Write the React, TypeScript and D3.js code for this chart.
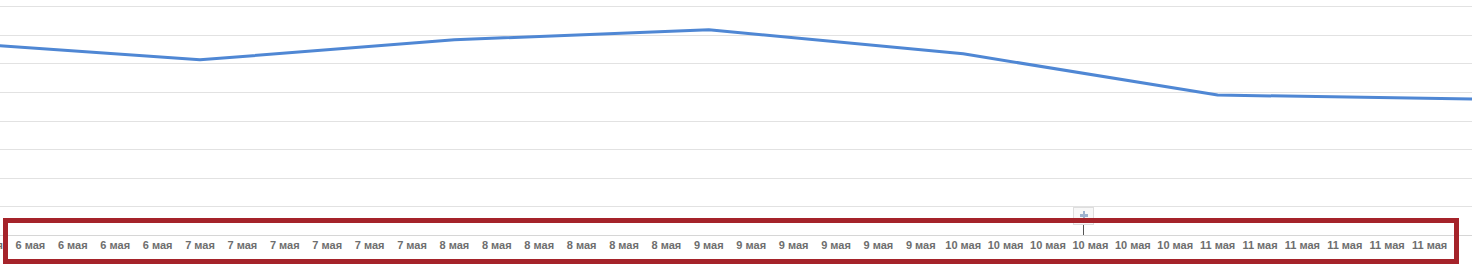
import React, { useEffect } from "react";
import * as d3 from "d3";

// Data
const days = ["6 мая", "7 мая", "8 мая", "9 мая", "10 мая", "11 мая", "12 мая"];
const values = [674, 612, 682, 717, 633, 489, 475];
const gridValues = [0, 100, 200, 300, 400, 500, 600, 700, 800];
const tickLabels = [
  "6 мая", "6 мая", "6 мая", "6 мая", "6 мая",
  "7 мая", "7 мая", "7 мая", "7 мая", "7 мая", "7 мая",
  "8 мая", "8 мая", "8 мая", "8 мая", "8 мая", "8 мая",
  "9 мая", "9 мая", "9 мая", "9 мая", "9 мая", "9 мая",
  "10 мая", "10 мая", "10 мая", "10 мая", "10 мая", "10 мая",
  "11 мая", "11 мая", "11 мая", "11 мая", "11 мая", "11 мая",
];
const tickHours = tickLabels.map((_, i) => 4 * (i + 1));
const hoverHour = 107.3;

const W = 1480;
const H = 271;

export default function App() {
  useEffect(() => {
    document.body.style.margin = "0";
  }, []);

  const x = d3.scaleLinear().domain([0, 144]).range([-54.4, 1472]);
  const y = d3.scaleLinear().domain([0, 800]).range([235, 6]);

  const pts = values.map((v, i) => [x(i * 24), y(v)] as [number, number]);
  const line = d3.line()(pts) || "";
  const hx = Math.round(x(hoverHour));

  return (
    <svg width={W} height={H} style={{ display: "block" }}>
      <rect x={0} y={0} width={W} height={H} fill="#fff" />
      {gridValues.map((g) => (
        <line
          key={g}
          x1={0}
          x2={1472}
          y1={Math.round(y(g)) + 0.5}
          y2={Math.round(y(g)) + 0.5}
          stroke={g === 0 ? "#d6d6d6" : "#e2e2e2"}
          strokeWidth={1}
        />
      ))}
      <path d={line} fill="none" stroke="#4f87d4" strokeWidth={3} strokeLinejoin="round" />
      {tickLabels.map((t, i) => (
        <text
          key={i}
          x={x(tickHours[i])}
          y={249}
          textAnchor="middle"
          fontFamily="'Liberation Sans', Arial, sans-serif"
          fontWeight="bold"
          fontSize={11}
          fill="#6e6e6e"
        >
          {t}
        </text>
      ))}
      <g>
        <line x1={hx + 0.5} x2={hx + 0.5} y1={222} y2={235} stroke="#555" strokeWidth={1} />
        <rect x={hx - 9.5} y={207.5} width={20} height={17} fill="#f8f8f8" stroke="#dedede" />
        <rect x={hx - 3} y={214} width={8} height={3} fill="#9fb3cf" />
        <rect x={hx} y={211} width={2} height={9} fill="#9fb3cf" />
      </g>
      <rect x={5.5} y={220.5} width={1451} height={41} fill="none" stroke="#a5232a" strokeWidth={5} />
    </svg>
  );
}
